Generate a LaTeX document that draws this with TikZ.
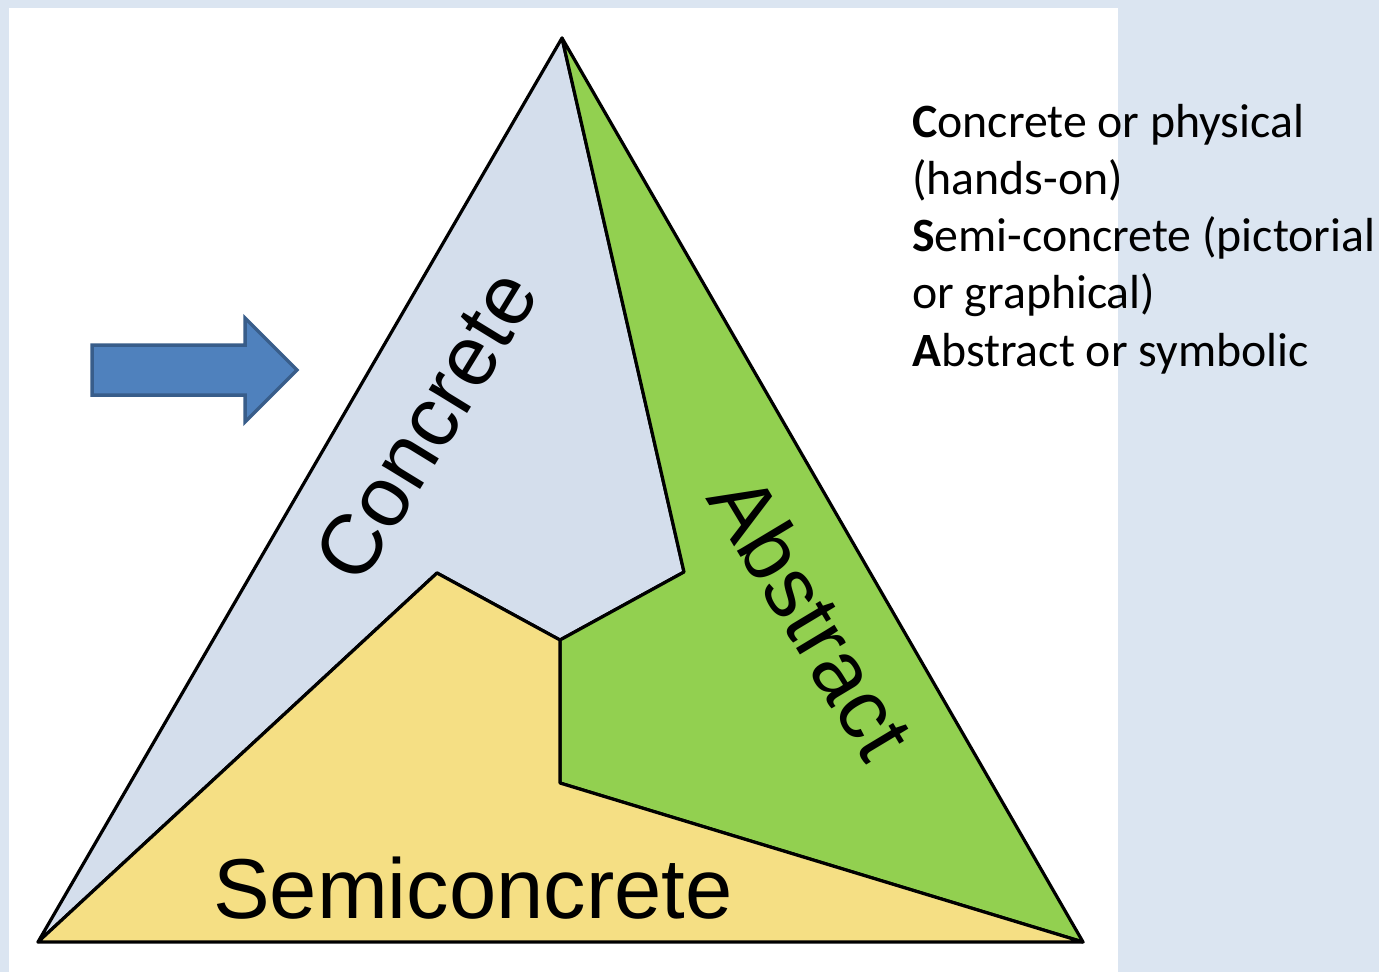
\documentclass[tikz,border=0pt]{standalone}
\usepackage{fontspec}
\setmainfont{Liberation Sans}
\newfontfamily\notefont{Carlito}
\definecolor{pagebg}{HTML}{DBE5F1}
\definecolor{concretefill}{HTML}{D4DEEC}
\definecolor{abstractfill}{HTML}{92D050}
\definecolor{semifill}{HTML}{F5DF84}
\definecolor{arrowfill}{HTML}{4F81BD}
\definecolor{arrowline}{HTML}{385D8A}
\tikzset{
  region/.style={draw=black, line width=3.2pt, line join=round},
  biglabel/.style={inner sep=0pt, font=\fontsize{85}{85}\selectfont},
  noteline/.style={anchor=base west, inner sep=0pt, font=\notefont\fontsize{47.8}{57}\selectfont},
}
\begin{document}
\begin{tikzpicture}[x=1pt, y=-1pt]
  % page and white panel
  \fill[pagebg] (0,0) rectangle (1379,972);
  \useasboundingbox (0,0) rectangle (1379,972);
  \fill[white] (9,8) rectangle (1118,972);

  % corner points of the triangle and the inner partition
  \coordinate (top) at (562,38);
  \coordinate (bl) at (38,942);
  \coordinate (br) at (1083,942);
  \coordinate (pr) at (684,572);
  \coordinate (pc) at (560,640);
  \coordinate (pl) at (437,573);
  \coordinate (pd) at (560,783);

  % three regions
  \filldraw[region, fill=concretefill] (top) -- (bl) -- (pl) -- (pc) -- (pr) -- cycle;
  \filldraw[region, fill=abstractfill] (top) -- (pr) -- (pc) -- (pd) -- (br) -- cycle;
  \filldraw[region, fill=semifill] (bl) -- (pl) -- (pc) -- (pd) -- (br) -- cycle;

  % region labels
  \node[biglabel, rotate=58.5] (lconcrete) at (426,425) {Concrete};
  \node[biglabel, rotate=-59] (labstract) at (812,616) {Abstract};
  \node[biglabel, anchor=base] (lsemi) at (473,918) {Semiconcrete};

  % block arrow pointing at the concrete stage
  \draw[fill=arrowfill, draw=arrowline, line width=3.5pt, line join=miter]
    (92,345) -- (245,345) -- (245,318) -- (297,370) -- (245,422) -- (245,395) -- (92,395) -- cycle;

  % legend
  \node[noteline] (n1) at (912,137) {\textbf{C}oncrete or physical};
  \node[noteline] (n2) at (912,194) {(hands-on)};
  \node[noteline] (n3) at (912,251) {\textbf{S}emi-concrete (pictorial};
  \node[noteline] (n4) at (912,308) {or graphical)};
  \node[noteline] (n5) at (912,366) {\textbf{A}bstract or symbolic};
\end{tikzpicture}
\end{document}
